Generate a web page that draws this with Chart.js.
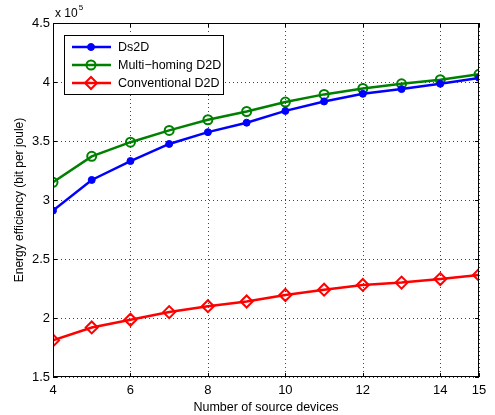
<!DOCTYPE html>
<html>
<head>
<meta charset="utf-8">
<script src="https://cdn.jsdelivr.net/npm/chart.js@4.4.1/dist/chart.umd.min.js"></script>
<style>
  html, body { margin: 0; padding: 0; background: #fff; }
  #wrap { width: 495px; height: 415px; position: relative; }
</style>
</head>
<body>
<div id="wrap"><canvas id="ee-chart"></canvas></div>
<script>
var sourceDevices = [4, 5, 6, 7, 8, 9, 10, 11, 12, 13, 14, 15];
var ds2d = [291000, 317000, 333000, 347500, 357500, 365500, 375500, 383500, 390000, 394000, 398500, 403500];
var multiHoming = [315000, 337000, 349000, 359000, 368000, 375000, 383000, 389500, 394500, 398500, 402000, 406500];
var conventional = [181000, 192000, 198500, 205000, 210000, 214000, 219500, 224000, 228000, 230000, 233000, 236500];
var xTicks = [4, 6, 8, 10, 12, 14, 15];
var yTicks = [150000, 200000, 250000, 300000, 350000, 400000, 450000];

var FONT = '"Liberation Sans", Arial, sans-serif';

function pts(values) {
  return values.map(function(v, i) { return { x: sourceDevices[i], y: v }; });
}

// dotted grid, under the lines
var matlabGrid = {
  id: 'matlabGrid',
  beforeDatasetsDraw: function(chart) {
    var ctx = chart.ctx, a = chart.chartArea;
    var xs = chart.scales.x, ys = chart.scales.y;
    ctx.save();
    ctx.strokeStyle = '#444';
    ctx.lineWidth = 1;
    ctx.setLineDash([1, 3]);
    ctx.beginPath();
    xTicks.forEach(function(t) {
      var px = Math.round(xs.getPixelForValue(t)) + 0.5;
      ctx.moveTo(px, a.top); ctx.lineTo(px, a.bottom);
    });
    yTicks.forEach(function(t) {
      var py = Math.round(ys.getPixelForValue(t)) + 0.5;
      ctx.moveTo(a.left, py); ctx.lineTo(a.right, py);
    });
    ctx.stroke();
    ctx.restore();
  }
};

// box, inward ticks, exponent label and legend
var matlabFrame = {
  id: 'matlabFrame',
  afterDatasetsDraw: function(chart) {
    var ctx = chart.ctx, a = chart.chartArea;
    var xs = chart.scales.x, ys = chart.scales.y;
    ctx.save();
    ctx.strokeStyle = '#000';
    ctx.lineWidth = 1;
    ctx.strokeRect(Math.round(a.left) + 0.5, Math.round(a.top) + 0.5,
      Math.round(a.right - a.left) - 1, Math.round(a.bottom - a.top) - 1);
    ctx.beginPath();
    xTicks.forEach(function(t) {
      var px = Math.round(xs.getPixelForValue(t)) + 0.5;
      ctx.moveTo(px, a.bottom); ctx.lineTo(px, a.bottom - 4);
      ctx.moveTo(px, a.top); ctx.lineTo(px, a.top + 4);
    });
    yTicks.forEach(function(t) {
      var py = Math.round(ys.getPixelForValue(t)) + 0.5;
      ctx.moveTo(a.left, py); ctx.lineTo(a.left + 4, py);
      ctx.moveTo(a.right, py); ctx.lineTo(a.right - 4, py);
    });
    ctx.stroke();

    // exponent
    ctx.fillStyle = '#000';
    ctx.textBaseline = 'alphabetic';
    ctx.font = '12px ' + FONT;
    ctx.fillText('x 10', a.left + 2, a.top - 6);
    var w = ctx.measureText('x 10').width;
    ctx.font = '8px ' + FONT;
    ctx.fillText('5', a.left + 3 + w, a.top - 13);

    // legend
    var lx = 64, ly = 35, lw = 159, lh = 59;
    ctx.fillStyle = '#fff';
    ctx.fillRect(lx, ly, lw, lh);
    ctx.strokeStyle = '#000';
    ctx.strokeRect(lx + 0.5, ly + 0.5, lw, lh);
    ctx.font = '12.5px ' + FONT;
    ctx.textBaseline = 'middle';
    chart.data.datasets.forEach(function(d, i) {
      var cy = ly + 12 + i * 18;
      ctx.strokeStyle = d.borderColor;
      ctx.lineWidth = 2.5;
      ctx.beginPath();
      ctx.moveTo(lx + 8, cy); ctx.lineTo(lx + 47, cy);
      ctx.stroke();
      ctx.strokeStyle = d.pointBorderColor;
      ctx.fillStyle = d.pointBackgroundColor;
      ctx.lineWidth = d.pointBorderWidth;
      Chart.helpers.drawPoint(ctx, {
        pointStyle: d.pointStyle, radius: d.pointRadius, borderWidth: d.pointBorderWidth, rotation: 0
      }, lx + 27, cy);
      ctx.fillStyle = '#000';
      ctx.fillText(d.label, lx + 54, cy + 1);
    });
    ctx.restore();
  }
};

var ds = [
  { label: 'Ds2D', data: pts(ds2d), borderColor: '#0000ff', pointBackgroundColor: '#0000ff',
    pointBorderColor: '#0000ff', pointStyle: 'circle', pointRadius: 3.5, pointBorderWidth: 1 },
  { label: 'Multi\u2212homing D2D', data: pts(multiHoming), borderColor: '#008000', pointBackgroundColor: 'rgba(255,255,255,0)',
    pointBorderColor: '#008000', pointStyle: 'circle', pointRadius: 4.5, pointBorderWidth: 2 },
  { label: 'Conventional D2D', data: pts(conventional), borderColor: '#ff0000', pointBackgroundColor: 'rgba(255,255,255,0)',
    pointBorderColor: '#ff0000', pointStyle: 'rectRot', pointRadius: 6, pointBorderWidth: 2 }
];
ds.forEach(function(d) {
  d.borderWidth = 2.5;
  d.tension = 0;
  d.fill = false;
});

new Chart(document.getElementById('ee-chart'), {
  type: 'line',
  data: { datasets: ds },
  options: {
    responsive: true,
    maintainAspectRatio: false,
    animation: false,
    devicePixelRatio: 1,
    layout: { padding: { left: 0, right: 16, top: 23, bottom: 0 } },
    plugins: { legend: { display: false }, tooltip: { enabled: false } },
    scales: {
      x: {
        type: 'linear', min: 4, max: 15,
        afterBuildTicks: function(s) { s.ticks = xTicks.map(function(v) { return { value: v }; }); },
        afterFit: function(s) { s.height = 38; },
        ticks: { color: '#000', font: { family: FONT, size: 13 }, padding: 6, maxRotation: 0 },
        grid: { display: false, drawTicks: false },
        border: { display: false },
        title: { display: true, text: 'Number of source devices', color: '#000',
          font: { family: FONT, size: 12.5 }, padding: { top: 0, bottom: 0 } }
      },
      y: {
        min: 150000, max: 450000,
        afterBuildTicks: function(s) { s.ticks = yTicks.map(function(v) { return { value: v }; }); },
        afterFit: function(s) { s.width = 53; },
        ticks: { color: '#000', font: { family: FONT, size: 13 }, padding: 3,
          callback: function(v) { return String(v / 100000); } },
        grid: { display: false, drawTicks: false },
        border: { display: false },
        title: { display: true, text: 'Energy efficiency (bit per joule)', color: '#000',
          font: { family: FONT, size: 12 }, padding: { top: 12, bottom: 6 } }
      }
    }
  },
  plugins: [matlabGrid, matlabFrame]
});
</script>
</body>
</html>
